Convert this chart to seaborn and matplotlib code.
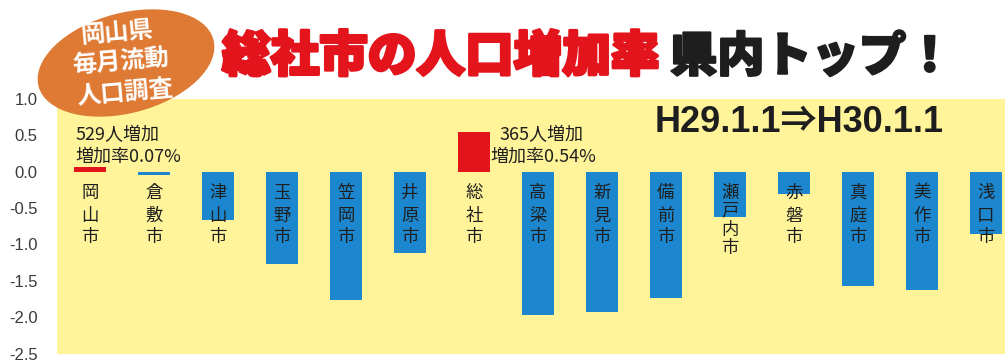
import matplotlib
matplotlib.use("Agg")
import matplotlib.pyplot as plt
from matplotlib.patches import Ellipse
import matplotlib.patheffects as pe
import pandas as pd
import seaborn as sns

# Population change rate by city (%), Okayama prefecture
cities = ["岡山市", "倉敷市", "津山市", "玉野市", "笠岡市", "井原市", "総社市",
          "高梁市", "新見市", "備前市", "瀬戸内市", "赤磐市", "真庭市", "美作市", "浅口市"]
rates = [0.07, -0.04, -0.67, -1.27, -1.76, -1.12, 0.54,
         -1.97, -1.93, -1.73, -0.62, -0.31, -1.57, -1.62, -0.86]
highlight = ["岡山市", "総社市"]
yticks = [1.0, 0.5, 0.0, -0.5, -1.0, -1.5, -2.0, -2.5]
ytick_labels = ["1.0", "0.5", "0.0", "-0.5", "-1.0", "-1.5", "-2.0", "-2.5"]
okayama_note = ["529人増加", "増加率0.07%"]
soja_note = ["365人増加", "増加率0.54%"]
title_red = "総社市の人口増加率"
title_black = "県内トップ！"
period = "H29.1.1⇒H30.1.1"
badge = ["岡山県", "毎月流動", "人口調査"]

RED = "#E3141C"
BLUE = "#1C87CE"
YELLOW = "#FFF49A"
ORANGE = "#DE7A34"
INK = "#1E1E1E"

sns.set_style("white")
plt.rcParams["font.family"] = ["Noto Sans CJK JP", "DejaVu Sans"]
plt.rcParams["axes.unicode_minus"] = False

df = pd.DataFrame({"city": cities, "rate": rates})
df["group"] = ["up" if c in highlight else "down" for c in cities]

W, H = 1005, 363
fig = plt.figure(figsize=(W / 100, H / 100), dpi=100, facecolor="white")

# main plotting area (pixel box: x 57..1005, y 99..353.5)
ax = fig.add_axes([57 / W, 1 - 353.5 / H, (W - 57) / W, 254.5 / H])
ax.set_facecolor(YELLOW)
sns.barplot(data=df, x="city", y="rate", hue="group", order=cities,
            palette={"up": RED, "down": BLUE}, dodge=False, width=0.5,
            saturation=1, legend=False, linewidth=0, edgecolor="none", ax=ax)

ax.set_xlim(-0.516, 14.30)
ax.set_ylim(-2.5, 1.0)
ax.set_yticks(yticks)
ax.set_yticklabels(ytick_labels, family=["Liberation Sans"], fontsize=12, color="#3a3a3a")
ax.set_xticks([])
ax.tick_params(axis="y", length=0, pad=14)
ax.set_xlabel("")
ax.set_ylabel("")
for s in ax.spines.values():
    s.set_visible(False)

# vertical city names, one character per line
px = 254.5 / 3.5  # pixels per unit on the value axis
for i, name in enumerate(cities):
    if len(name) == 3:
        offs = [21, 44, 65]
    else:
        offs = [21, 39, 58, 76]
    for ch, o in zip(name, offs):
        ax.text(i, -o / px, ch, ha="center", va="center", fontsize=12.5, color=INK)

# value notes
for note, (x1, x2) in ((okayama_note, (-0.234, -0.234)), (soja_note, (6.406, 6.25))):
    ax.text(x1, 37 / px, note[0], ha="left", va="center", fontsize=13, color=INK)
    ax.text(x2, 15 / px, note[1], ha="left", va="center", fontsize=13, color=INK)

# overlay in pixel coordinates for headline and badge
ov = fig.add_axes([0, 0, 1, 1], facecolor="none")
ov.set_xlim(0, W)
ov.set_ylim(H, 0)
ov.axis("off")

ov.add_patch(Ellipse((126, 63), 181, 100, angle=-15, facecolor=ORANGE, edgecolor="none"))
for line, (bx, by) in zip(badge, [(117, 33), (121, 63), (125, 93)]):
    ov.text(bx, by, line, ha="center", va="center", fontsize=17.5, fontweight="bold",
            color="white", rotation=5)

ov.text(222, 57, title_red, ha="left", va="center", fontsize=35, fontweight="heavy", color=RED,
        path_effects=[pe.withStroke(linewidth=2.2, foreground=RED)])
ov.text(670, 57, title_black, ha="left", va="center", fontsize=34, fontweight="heavy", color=INK,
        path_effects=[pe.withStroke(linewidth=1.6, foreground=INK)])
ov.text(655, 123, period, ha="left", va="center", fontsize=26, fontweight="bold", color=INK,
        family=["Liberation Sans", "Noto Sans CJK JP"])

fig.savefig("out.png", dpi=100, facecolor="white")
